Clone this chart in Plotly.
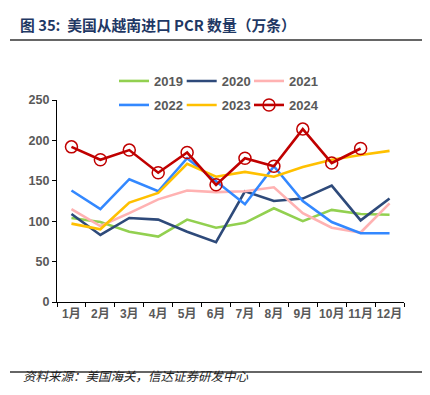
import plotly.graph_objects as go

months = ["1月", "2月", "3月", "4月", "5月", "6月", "7月", "8月", "9月", "10月", "11月", "12月"]
v2019 = [104, 99, 87, 81, 102, 92, 98, 116, 100, 114, 109, 108]
v2020 = [109, 83, 104, 102, 87, 74, 137, 125, 128, 144, 101, 128]
v2021 = [115, 94, 110, 127, 138, 136, 137, 142, 110, 92, 86, 122]
v2022 = [138, 115, 152, 137, 178, 149, 121, 168, 125, 99, 85, 85]
v2023 = [97, 90, 123, 135, 171, 155, 161, 155, 167, 176, 182, 187]
v2024 = [192, 176, 188, 160, 185, 145, 178, 168, 214, 172, 190]
y_ticks = [0, 50, 100, 150, 200, 250]

# page has an 8px body margin; work in page pixels and convert
OFF = 8
W, H = 430 - 2 * OFF, 395 - 2 * OFF
PL, PR, PT, PB = 57, 404, 100, 302  # plot area in page pixels
L, R, T, B = PL - OFF, W - (PR - OFF), PT - OFF, H - (PB - OFF)
pw, ph = PR - PL, PB - PT

def px_x(x):
    return (x - PL) / pw

def px_y(y):
    return (PB - y) / ph

series = [
    ("2019", v2019, "#92D050"),
    ("2020", v2020, "#2E4A7A"),
    ("2021", v2021, "#FFB2B2"),
    ("2022", v2022, "#3388FF"),
    ("2023", v2023, "#FFC000"),
]

fig = go.Figure()
legend_ids = ["legend", "legend2", "legend3", "legend4", "legend5", "legend6"]
for i, (name, vals, color) in enumerate(series):
    fig.add_trace(go.Scatter(x=months[:len(vals)], y=vals, name=name, mode="lines",
                             line=dict(color=color, width=2.6), legend=legend_ids[i]))
fig.add_trace(go.Scatter(x=months[:len(v2024)], y=v2024, name="2024", mode="lines+markers",
                         line=dict(color="#C00000", width=2.6),
                         marker=dict(symbol="circle-open", size=12, color="#C00000",
                                     line=dict(width=1.5, color="#C00000")),
                         legend=legend_ids[5]))

legfont = dict(family="Liberation Sans", size=13, color="#595959", weight="bold")
col_x = [119, 186.7, 254]
row_y = [81, 105]
legends = {}
for i, lid in enumerate(legend_ids):
    cx = col_x[i % 3] - 5
    cy = row_y[i // 3]
    legends[lid] = dict(orientation="h", x=px_x(cx), y=px_y(cy), xanchor="left",
                        yanchor="middle", bgcolor="rgba(0,0,0,0)", borderwidth=0,
                        font=legfont, itemwidth=30)

fig.update_layout(
    width=W, height=H,
    margin=dict(l=L, r=R, t=T, b=B, autoexpand=False),
    paper_bgcolor="white", plot_bgcolor="white",
    font=dict(family="Liberation Sans, Noto Sans CJK SC"),
    xaxis=dict(type="category", categoryorder="array", categoryarray=months,
               range=[-0.5, 11.5], showline=True, linecolor="#000000", linewidth=1.3,
               ticks="outside", tickson="boundaries", ticklen=4, tickcolor="#000000",
               tickwidth=1.3, showgrid=False, zeroline=False, tickangle=0, automargin=False,
               tickfont=dict(family="Liberation Sans, Noto Sans CJK SC", size=12,
                             color="#595959", weight="bold")),
    yaxis=dict(range=[0, 250], tickvals=y_ticks, showline=True, linecolor="#000000",
               linewidth=1.3, ticks="outside", ticklen=4, tickcolor="#000000", tickwidth=1.3,
               showgrid=False, zeroline=False, automargin=False,
               tickfont=dict(family="Liberation Sans", size=12.5, color="#595959",
                             weight="bold")),
    showlegend=True,
    title=dict(text="图 35:  美国从越南进口 PCR 数量（万条）", x=(20 - OFF) / W, xanchor="left",
               xref="container", y=1 - (25.5 - OFF) / H, yref="container", yanchor="middle",
               font=dict(family="Noto Sans CJK SC", size=14.8, color="#1F3864", weight="bold")),
    shapes=[
        dict(type="line", xref="paper", yref="paper", x0=px_x(10), x1=px_x(422),
             y0=px_y(40), y1=px_y(40), line=dict(color="#333333", width=1.3)),
        dict(type="line", xref="paper", yref="paper", x0=px_x(10), x1=px_x(422),
             y0=px_y(372), y1=px_y(372), line=dict(color="#333333", width=1.3)),
    ],
    annotations=[
        dict(text="资料来源：美国海关，信达证券研发中心", xref="paper", yref="paper",
             x=px_x(21), y=px_y(387), xanchor="left", yanchor="bottom", showarrow=False,
             font=dict(family="Noto Sans CJK SC", size=12.5, color="#222222", style="italic")),
    ],
    **legends,
)

fig.write_html("out.html")
